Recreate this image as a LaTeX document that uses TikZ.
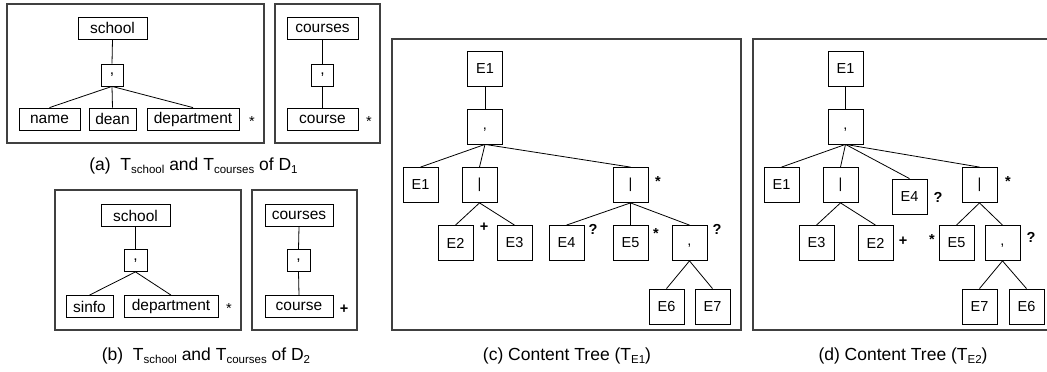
\documentclass[tikz,border=0pt]{standalone}
\usepackage{fontspec}
\setmainfont{Liberation Sans}
% small lowered index text for the captions
\newcommand\lowsub[1]{\raisebox{-0.3ex}{\fontsize{11.5}{12}\selectfont #1}}

\begin{document}
\begin{tikzpicture}[x=1pt,y=-1pt,
  panel/.style={draw=black!75, line width=1.1pt},
  tbox/.style={draw, line width=0.8pt, inner sep=0pt, minimum height=22pt,
               font=\fontsize{15.5}{17}\selectfont},
  ebox/.style={draw, line width=0.8pt, inner sep=0pt, minimum width=35pt,
               minimum height=35pt, font=\fontsize{14.5}{16}\selectfont},
  lowcomma/.style={text height=0.5em, text depth=0pt},
  edge/.style={line width=0.8pt},
  sym/.style={inner sep=0pt, anchor=base, font=\fontsize{14.5}{16}\selectfont},
  bsym/.style={sym, font=\fontsize{14.5}{16}\selectfont\bfseries},
  captext/.style={inner sep=0pt, font=\fontsize{17.5}{20}\selectfont}
]
\useasboundingbox (0,0) rectangle (1047,372);

% ---- frames ----
\draw[panel] (7,4) rectangle (264,143);
\draw[panel] (275,4) rectangle (380,143);
\draw[panel] (55,190) rectangle (241,330);
\draw[panel] (252,190) rectangle (357,330);
\draw[panel] (392,39) rectangle (741,330);
\draw[panel] (753,39) rectangle (1050,330);

% ---- (a) T_school of D1 ----
\node[tbox, minimum width=69pt] (as) at (112.5,28) {school};
\node[tbox, minimum width=22pt] (ac) at (112,75) {,};
\node[tbox, minimum width=61pt] (an) at (49.5,119) {name};
\node[tbox, minimum width=47pt] (ad) at (112.5,119) {dean};
\node[tbox, minimum width=92pt] (adep) at (193,119) {department};
\node[sym] (adeps) at (252,126.3) {*};
\draw[edge] (as.south) -- (ac.north);
\draw[edge] (ac.south) -- (an.north);
\draw[edge] (ac.south) -- (ad.north);
\draw[edge] (ac.south) -- (adep.north);

% ---- (a) T_courses of D1 ----
\node[tbox, minimum width=71pt] (acs) at (322.5,28) {courses};
\node[tbox, minimum width=22pt] (acc) at (322.5,75) {,};
\node[tbox, minimum width=71pt] (aco) at (322.5,119) {course};
\node[sym] (acos) at (369,126.3) {*};
\draw[edge] (acs.south) -- (acc.north);
\draw[edge] (acc.south) -- (aco.north);

\node[captext] (capa) at (193.5,166) {(a)\ \ T\lowsub{school} and T\lowsub{courses} of D\lowsub{1}};

% ---- (b) T_school of D2 ----
\node[tbox, minimum width=69pt] (bs) at (135.5,215.5) {school};
\node[tbox, minimum width=23pt] (bc) at (135.5,260.5) {,};
\node[tbox, minimum width=47pt] (bsi) at (89.5,306.5) {sinfo};
\node[tbox, minimum width=94pt] (bdep) at (171,306.5) {department};
\node[sym] (bdeps) at (229,313.3) {*};
\draw[edge] (bs.south) -- (bc.north);
\draw[edge] (bc.south) -- (bsi.north);
\draw[edge] (bc.south) -- (bdep.north);

% ---- (b) T_courses of D2 ----
\node[tbox, minimum width=68pt] (bcs) at (299,215.5) {courses};
\node[tbox, minimum width=23pt] (bcc) at (298.5,260.5) {,};
\node[tbox, minimum width=68pt] (bco) at (299,306.5) {course};
\node[bsym] (bcos) at (344,313.1) {+};
\draw[edge] (bcs.south) -- (bcc.north);
\draw[edge] (bcc.south) -- (bco.north);

\node[captext] (capb) at (206,356) {(b)\ \ T\lowsub{school} and T\lowsub{courses} of D\lowsub{2}};

% ---- (c) content tree T_E1 ----
\node[ebox] (c1) at (485,68.5) {E1};
\node[ebox, lowcomma] (cc) at (485,126.5) {,};
\node[ebox] (ce1) at (420.5,185) {E1};
\node[ebox] (cb1) at (479.5,185) {|};
\node[ebox] (cb2) at (630.5,185) {|};
\node[ebox] (ce2) at (455.5,243) {E2};
\node[ebox] (ce3) at (514.5,243) {E3};
\node[ebox] (ce4) at (566.5,243) {E4};
\node[ebox] (ce5) at (630.5,243) {E5};
\node[ebox, lowcomma] (cc2) at (689.5,243) {,};
\node[ebox] (ce6) at (666.5,306.5) {E6};
\node[ebox] (ce7) at (712.5,306.5) {E7};
\node[bsym] (cb2s) at (658,186.3) {*};
\node[bsym] (ce2s) at (484,231.1) {+};
\node[bsym] (ce4s) at (593,234.3) {?};
\node[bsym] (ce5s) at (656,238.3) {*};
\node[bsym] (cc2s) at (717,234.3) {?};
\draw[edge] (c1.south) -- (cc.north);
\draw[edge] (cc.south) -- (ce1.north);
\draw[edge] (cc.south) -- (cb1.north);
\draw[edge] (cc.south) -- (cb2.north);
\draw[edge] (cb1.south) -- (ce2.north);
\draw[edge] (cb1.south) -- (ce3.north);
\draw[edge] (cb2.south) -- (ce4.north);
\draw[edge] (cb2.south) -- (ce5.north);
\draw[edge] (cb2.south) -- (cc2.north);
\draw[edge] (cc2.south) -- (ce6.north);
\draw[edge] (cc2.south) -- (ce7.north);

\node[captext] (capc) at (567,356) {(c) Content Tree (T\lowsub{E1})};

% ---- (d) content tree T_E2 ----
\node[ebox] (d1) at (845.5,68.5) {E1};
\node[ebox, lowcomma] (dc) at (845.5,126.5) {,};
\node[ebox] (de1) at (781.5,185) {E1};
\node[ebox] (db1) at (840.5,185) {|};
\node[ebox] (de4) at (909.5,196.5) {E4};
\node[ebox] (db2) at (979.5,185) {|};
\node[ebox] (de3) at (816.5,243) {E3};
\node[ebox] (de2) at (875.5,243) {E2};
\node[ebox] (de5) at (956.5,243) {E5};
\node[ebox, lowcomma] (dc2) at (1002.5,243) {,};
\node[ebox] (de7) at (979.5,306.5) {E7};
\node[ebox] (de6) at (1026.5,306.5) {E6};
\node[bsym] (db2s) at (1008,186.3) {*};
\node[bsym] (de2s) at (903,245.1) {+};
\node[bsym] (de4s) at (938,202.3) {?};
\node[bsym] (de5s) at (932,244.3) {*};
\node[bsym] (dc2s) at (1031,242.3) {?};
\draw[edge] (d1.south) -- (dc.north);
\draw[edge] (dc.south) -- (de1.north);
\draw[edge] (dc.south) -- (db1.north);
\draw[edge] (dc.south) -- (de4.north);
\draw[edge] (dc.south) -- (db2.north);
\draw[edge] (db1.south) -- (de3.north);
\draw[edge] (db1.south) -- (de2.north);
\draw[edge] (db2.south) -- (de5.north);
\draw[edge] (db2.south) -- (dc2.north);
\draw[edge] (dc2.south) -- (de7.north);
\draw[edge] (dc2.south) -- (de6.north);

\node[captext] (capd) at (903,356) {(d) Content Tree (T\lowsub{E2})};
\end{tikzpicture}
\end{document}
